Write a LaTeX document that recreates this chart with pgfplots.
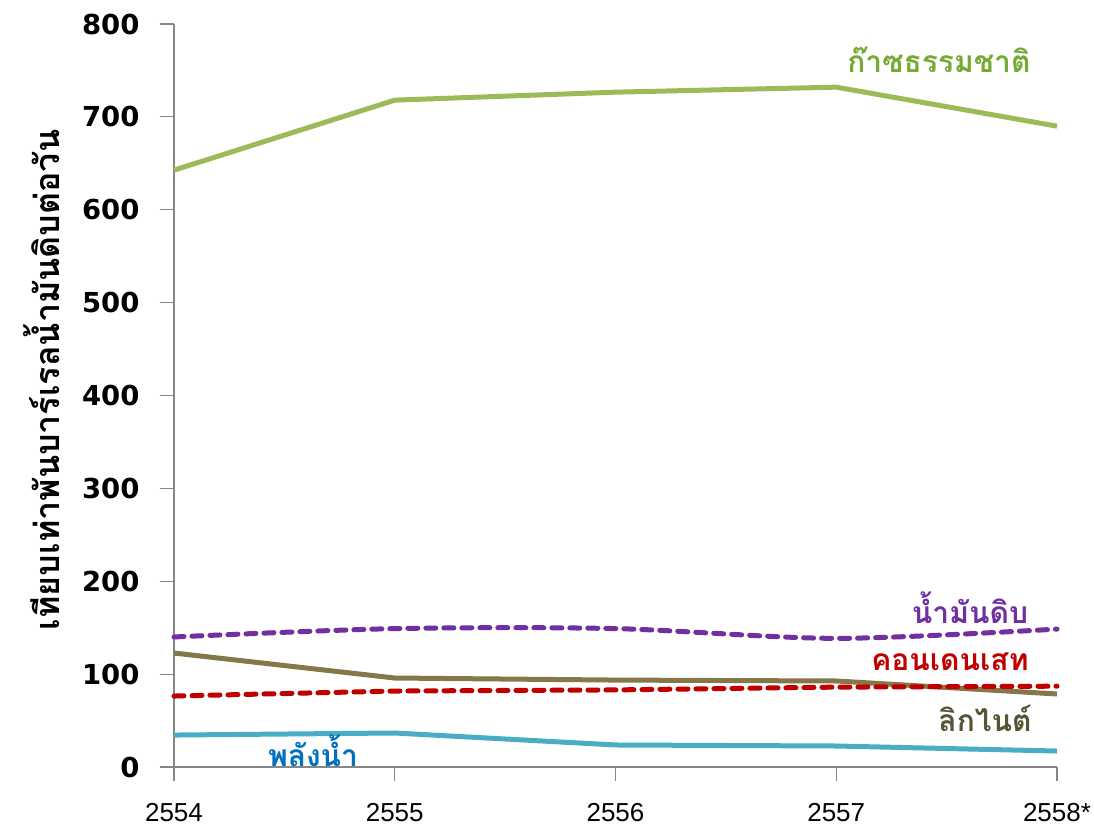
\documentclass[border=0pt]{standalone}
\usepackage{fontspec}
\setmainfont{Liberation Sans}
\newfontfamily\thaifont[Script=Thai]{Loma}
\newfontfamily\numfont{DejaVu Sans}
\usepackage{pgfplots}
\pgfplotsset{compat=1.18}
\definecolor{gasc}{RGB}{155,187,89}
\definecolor{gaslab}{RGB}{119,170,52}
\definecolor{oilc}{RGB}{112,48,160}
\definecolor{conc}{RGB}{192,0,0}
\definecolor{ligc}{RGB}{132,120,75}
\definecolor{liglab}{RGB}{89,84,54}
\definecolor{hydc}{RGB}{75,172,198}
\definecolor{hydlab}{RGB}{0,112,192}
\definecolor{axc}{RGB}{134,134,134}
\begin{document}
\begin{tikzpicture}
\path[use as bounding box] (-174pt,-67pt) rectangle (920pt,767pt);
\begin{axis}[
  at={(0pt,0pt)}, anchor=origin,
  scale only axis, width=883pt, height=743pt,
  xmin=0, xmax=4, ymin=0, ymax=800,
  xtick={0,1,2,3,4},
  xticklabels={2554,2555,2556,2557,2558*},
  ytick={0,100,...,800},
  axis x line*=bottom, axis y line*=left,
  axis line style={axc, line width=1.2pt, -},
  tick style={axc, line width=1.2pt},
  tick align=outside, major tick length=14pt,
  xticklabel style={font=\fontsize{26}{26}\selectfont, yshift=-19pt},
  yticklabel style={font=\numfont\bfseries\fontsize{27.5}{27.5}\selectfont, xshift=-17pt},
  /pgf/number format/assume math mode=true,
  clip=false,
  every axis plot/.append style={line width=5pt, line join=round},
]
\addplot[gasc] coordinates {(0,642.6) (1,718) (2,726.6) (3,732) (4,690)};
\addplot[oilc, smooth, tension=0.5, dash pattern=on 10pt off 8pt, line cap=round] coordinates {(0,140) (1,149) (2,149) (3,138.5) (4,148.5)};
\addplot[ligc] coordinates {(0,122.7) (1,95.8) (2,93.6) (3,92.6) (4,78.6)};
\addplot[conc, dash pattern=on 10pt off 8pt, line cap=round] coordinates {(0,76.4) (1,81.8) (2,83) (3,86) (4,87)};
\addplot[hydc] coordinates {(0,34.4) (1,36.6) (2,23.7) (3,22.6) (4,17.2)};
\node[text=gaslab, font=\thaifont\bfseries\fontsize{30}{30}\selectfont] at (axis cs:3.465,761) {ก๊าซธรรมชาติ};
\node[text=oilc, font=\thaifont\bfseries\fontsize{30}{30}\selectfont] at (axis cs:3.606,172) {น้ำมันดิบ};
\node[text=conc, font=\thaifont\bfseries\fontsize{30}{30}\selectfont] at (axis cs:3.515,113) {คอนเดนเสท};
\node[text=liglab, font=\thaifont\bfseries\fontsize{30}{30}\selectfont] at (axis cs:3.674,52.7) {ลิกไนต์};
\node[text=hydlab, font=\thaifont\bfseries\fontsize{30}{30}\selectfont] at (axis cs:0.63,18) {พลังน้ำ};
\node[rotate=90, font=\thaifont\bfseries\fontsize{34}{34}\selectfont] at ([xshift=-132pt]axis description cs:0,0.521) {เทียบเท่าพันบาร์เรลน้ำมันดิบต่อวัน};
\end{axis}
\end{tikzpicture}
\end{document}
